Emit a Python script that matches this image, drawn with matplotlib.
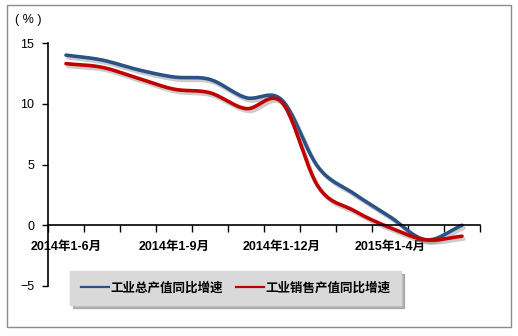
import numpy as np
import matplotlib.pyplot as plt
import matplotlib.patheffects as pe
from matplotlib.patches import Rectangle

plt.rcParams['font.family'] = ['Liberation Sans', 'Noto Sans CJK SC']

months = ['2014年1-6月', '2014年1-7月', '2014年1-8月', '2014年1-9月',
          '2014年1-10月', '2014年1-11月', '2014年1-12月', '2015年1-2月',
          '2015年1-3月', '2015年1-4月', '2015年1-5月', '2015年1-6月']
gross_output = [14.0, 13.6, 12.8, 12.2, 12.0, 10.5, 10.3, 4.8, 2.6, 0.7, -1.2, 0.0]
sales_output = [13.3, 13.0, 12.1, 11.2, 10.9, 9.6, 10.1, 3.2, 1.2, -0.2, -1.2, -0.9]
series_names = ['工业总产值同比增速', '工业销售产值同比增速']
label_every = 3


def smooth(x, y, n=24):
    # catmull-rom curve through the points (like excel's smoothed line)
    x = np.asarray(x, float)
    y = np.asarray(y, float)
    px = np.concatenate([[2*x[0]-x[1]], x, [2*x[-1]-x[-2]]])
    py = np.concatenate([[2*y[0]-y[1]], y, [2*y[-1]-y[-2]]])
    xs, ys = [], []
    t = np.linspace(0, 1, n, endpoint=False)
    for i in range(1, len(px)-2):
        for p, out in ((px, xs), (py, ys)):
            p0, p1, p2, p3 = p[i-1], p[i], p[i+1], p[i+2]
            out.extend(0.5*((2*p1) + (-p0+p2)*t + (2*p0-5*p1+4*p2-p3)*t**2
                            + (-p0+3*p1-3*p2+p3)*t**3))
    xs.append(x[-1])
    ys.append(y[-1])
    return np.array(xs), np.array(ys)


fig = plt.figure(figsize=(5.18, 3.36), dpi=100)
ax = fig.add_axes([48/518, 1-286/336, 432/518, 243/336])

xpos = np.arange(len(months)) + 0.5
shadow = [pe.SimpleLineShadow(offset=(1.5, -2), shadow_color='#808080', alpha=0.4),
          pe.Normal()]
colors = ['#2B5287', '#C00000']
for vals, c, name in zip([gross_output, sales_output], colors, series_names):
    sx, sy = smooth(xpos, vals)
    ax.plot(sx, sy, color=c, lw=2.6, path_effects=shadow, solid_capstyle='round')
    ax.plot([], [], color=c, lw=1.6, label=name)

ax.set_xlim(0, len(months))
ax.set_ylim(-5, 15)
ax.set_yticks([-5, 0, 5, 10, 15])
ax.tick_params(axis='y', direction='out', length=4, width=1, labelsize=9, pad=6)

ax.spines['top'].set_visible(False)
ax.spines['right'].set_visible(False)
ax.spines['bottom'].set_position(('data', 0))
ax.spines['left'].set_linewidth(1.2)
ax.spines['bottom'].set_linewidth(1.2)

ax.set_xticks(np.arange(len(months)+1))
ax.set_xticklabels([])
ax.tick_params(axis='x', which='major', direction='out', length=5, width=1)
ax.set_xticks(xpos[::label_every], minor=True)
ax.set_xticklabels(months[::label_every], minor=True, fontsize=9, fontweight='bold')
ax.tick_params(axis='x', which='minor', length=0, pad=11)

fig.text(28/518, 1-20/336, '( % )', fontsize=9, ha='center', va='center')

leg = fig.legend(loc='center', bbox_to_anchor=(235.5/518, 1-288/336), ncol=2,
                 frameon=True, fancybox=False, shadow={'color': '#888888', 'alpha': 0.6},
                 handlelength=2.3, handletextpad=0.1, columnspacing=1.0,
                 borderpad=0.85, prop={'size': 9, 'weight': 'bold'})
leg.get_frame().set_facecolor('#D9D9D9')
leg.get_frame().set_edgecolor('#D9D9D9')

fig.add_artist(Rectangle((7/518, 1-327/336), 504/518, 322/336, transform=fig.transFigure,
                         fill=False, edgecolor='#8C8C8C', lw=1))

fig.savefig('out.png', dpi=100)
